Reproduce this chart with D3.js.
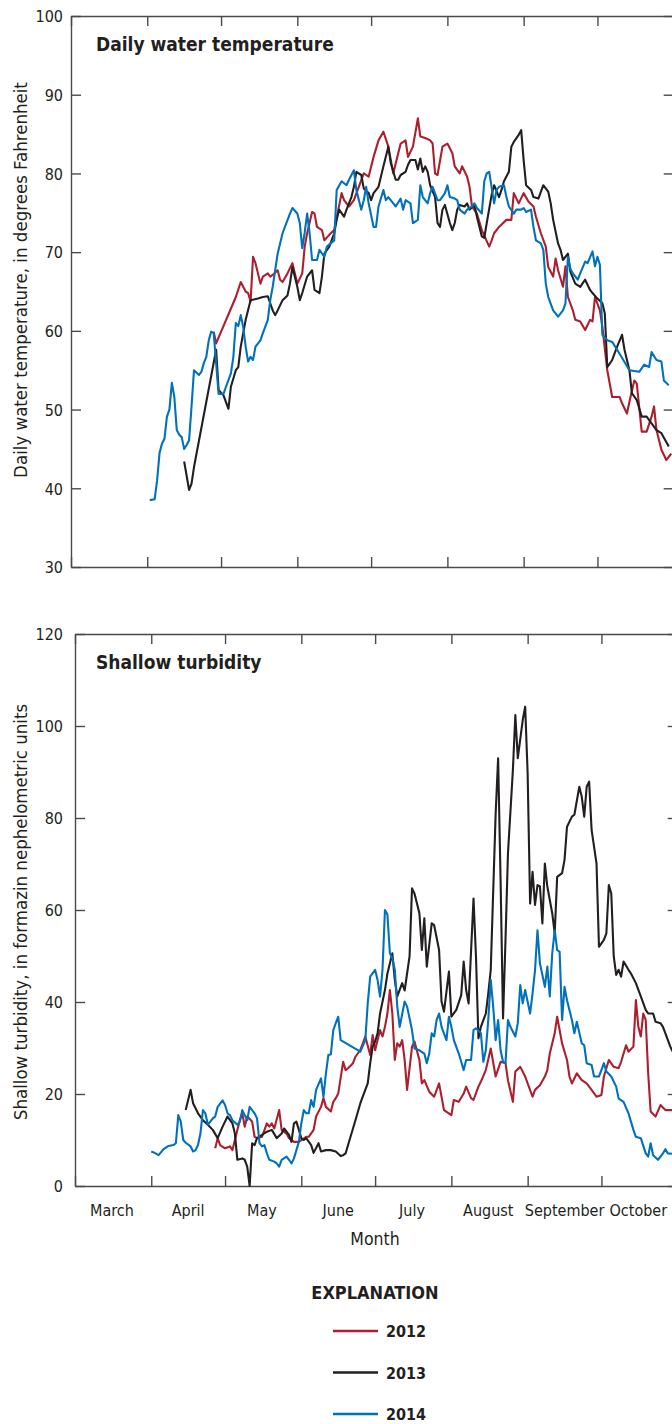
<!doctype html>
<html>
<head>
<meta charset="utf-8">
<style>
  body { margin: 0; background: #fff; }
  svg { display: block; }
  text { font-family: "Liberation Sans Narrow", "Arial Narrow", "DejaVu Sans Condensed", sans-serif; fill: #231f20; }
  .axis path, .axis line { stroke: #4a4a4a; stroke-width: 1.4; }
  .axis text { font-size: 16px; fill: #231f20; }
</style>
<script src="https://d3js.org/d3.v7.min.js"></script>
</head>
<body>
<svg width="672" height="1424"></svg>
<script>

// ---- data (month/day, value) ----
var months = ["March", "April", "May", "June", "July", "August", "September", "October"];
var years = ["2012", "2013", "2014"];
var colors = ["#ac1f2e", "#231f20", "#0071bb"];
var tempTicks = [30, 40, 50, 60, 70, 80, 90, 100];
var turbTicks = [0, 20, 40, 60, 80, 100, 120];

var temp2012 = [["4/28",59.9],["4/29",58.4],["5/7",64.3],["5/9",66.2],["5/11",65.0],["5/12",64.8],["5/13",63.7],["5/14",69.4],["5/15",68.6],["5/17",66.0],["5/18",66.9],["5/20",67.3],["5/21",66.9],["5/22",67.1],["5/24",67.7],["5/25",66.5],["5/26",66.2],["5/28",67.3],["5/30",68.6],["5/31",67.3],["6/1",66.0],["6/3",67.3],["6/4",70.7],["6/5",72.4],["6/7",75.1],["6/8",74.9],["6/9",73.2],["6/11",72.8],["6/12",71.5],["6/14",72.2],["6/16",72.8],["6/19",77.5],["6/20",76.6],["6/22",75.8],["6/24",76.6],["6/26",78.3],["6/28",80.0],["6/30",79.6],["7/2",82.1],["7/4",84.2],["7/6",85.3],["7/8",83.4],["7/10",80.0],["7/13",83.8],["7/15",84.2],["7/16",82.1],["7/18",83.4],["7/20",87.0],["7/21",84.7],["7/23",84.5],["7/25",84.2],["7/26",83.8],["7/27",80.0],["7/28",79.8],["7/30",83.4],["8/1",83.8],["8/3",82.6],["8/4",80.9],["8/6",80.0],["8/7",80.9],["8/9",79.6],["8/10",78.3],["8/11",75.8],["8/13",74.9],["8/15",72.8],["8/18",70.7],["8/19",71.5],["8/20",72.4],["8/22",73.2],["8/25",74.1],["8/27",74.1],["8/28",77.5],["8/30",76.2],["9/1",77.5],["9/3",76.4],["9/5",75.8],["9/6",74.5],["9/8",72.4],["9/10",70.7],["9/11",68.1],["9/13",66.9],["9/14",69.2],["9/15",67.7],["9/17",65.6],["9/18",68.2],["9/19",64.3],["9/21",62.6],["9/22",61.4],["9/24",61.2],["9/26",60.1],["9/28",61.4],["9/29",61.2],["9/30",64.3],["10/2",62.6],["10/3",60.5],["10/5",55.0],["10/7",51.6],["10/10",51.6],["10/11",50.8],["10/13",49.5],["10/14",51.0],["10/16",53.7],["10/17",53.3],["10/19",47.2],["10/21",47.2],["10/23",49.1],["10/24",50.4],["10/25",47.4],["10/27",44.9],["10/29",43.6],["10/31",44.4]];

var temp2013 = [["4/16",43.4],["4/18",39.8],["4/19",40.6],["4/20",42.7],["4/29",57.6],["4/30",52.5],["5/2",51.8],["5/4",50.1],["5/5",52.9],["5/7",55.0],["5/8",55.4],["5/9",58.0],["5/11",61.4],["5/13",63.9],["5/16",64.1],["5/18",64.3],["5/20",64.4],["5/22",62.6],["5/23",62.0],["5/24",62.6],["5/26",63.9],["5/28",64.5],["5/29",66.0],["5/30",68.1],["6/1",65.6],["6/2",63.9],["6/3",64.8],["6/5",66.9],["6/7",67.7],["6/8",65.2],["6/10",64.8],["6/11",66.9],["6/12",69.8],["6/14",70.7],["6/16",72.4],["6/17",74.1],["6/18",75.4],["6/20",74.5],["6/21",75.4],["6/23",77.0],["6/24",78.3],["6/25",80.2],["6/27",79.8],["6/28",78.1],["6/30",77.5],["7/1",76.6],["7/2",77.5],["7/4",78.3],["7/5",79.6],["7/6",80.9],["7/8",83.4],["7/9",81.3],["7/11",79.2],["7/12",79.2],["7/13",79.8],["7/15",80.2],["7/16",81.1],["7/17",81.7],["7/19",81.7],["7/20",80.5],["7/21",81.9],["7/22",80.2],["7/23",80.9],["7/24",80.2],["7/25",78.5],["7/27",77.0],["7/28",73.7],["7/29",73.2],["7/30",75.4],["7/31",76.0],["8/2",73.7],["8/3",72.8],["8/4",73.7],["8/5",75.4],["8/6",76.0],["8/8",75.8],["8/9",76.2],["8/10",75.4],["8/12",76.0],["8/13",74.5],["8/15",72.0],["8/16",71.8],["8/17",73.7],["8/19",77.3],["8/20",78.5],["8/22",77.0],["8/23",77.9],["8/24",79.0],["8/26",80.2],["8/27",83.4],["8/28",84.0],["8/30",84.9],["8/31",85.5],["9/1",81.7],["9/2",78.5],["9/4",77.9],["9/5",77.0],["9/7",76.8],["9/9",78.5],["9/11",77.7],["9/12",76.2],["9/13",74.1],["9/15",71.1],["9/16",70.3],["9/17",69.0],["9/19",69.8],["9/20",67.5],["9/22",66.0],["9/24",65.6],["9/26",66.5],["9/28",65.2],["9/29",64.8],["10/1",64.1],["10/3",63.5],["10/4",62.2],["10/5",55.4],["10/7",56.3],["10/9",58.0],["10/11",59.5],["10/12",57.6],["10/14",55.0],["10/15",52.1],["10/17",51.2],["10/19",49.1],["10/21",49.1],["10/25",47.4],["10/27",47.0],["10/30",45.3]];

var temp2014 = [["4/2",38.5],["4/4",38.6],["4/5",41.0],["4/6",44.5],["4/7",45.7],["4/8",46.3],["4/9",49.1],["4/10",50.0],["4/11",53.4],["4/12",51.6],["4/13",47.4],["4/14",46.8],["4/15",46.5],["4/16",45.0],["4/17",45.5],["4/18",46.1],["4/19",50.4],["4/20",55.0],["4/22",54.4],["4/23",54.8],["4/24",55.9],["4/25",56.7],["4/26",58.8],["4/27",59.9],["4/28",59.7],["4/29",55.9],["4/30",52.0],["5/2",52.0],["5/3",52.9],["5/5",54.6],["5/6",56.7],["5/7",61.0],["5/8",60.6],["5/9",62.0],["5/10",60.5],["5/11",58.0],["5/12",56.1],["5/13",56.7],["5/14",56.3],["5/15",58.0],["5/17",58.8],["5/18",59.7],["5/20",61.4],["5/21",63.9],["5/22",65.6],["5/24",69.8],["5/26",72.4],["5/29",74.9],["5/30",75.6],["6/1",74.9],["6/2",73.7],["6/3",70.5],["6/4",72.5],["6/5",74.9],["6/6",72.4],["6/7",69.0],["6/9",69.0],["6/10",70.3],["6/12",69.4],["6/13",70.7],["6/16",71.5],["6/17",77.9],["6/19",79.0],["6/21",78.5],["6/22",79.2],["6/24",80.4],["6/25",77.9],["6/27",75.4],["6/28",76.6],["6/29",78.3],["6/30",76.2],["7/2",73.2],["7/3",73.2],["7/4",75.8],["7/6",77.9],["7/7",76.6],["7/8",77.0],["7/10",76.2],["7/11",75.8],["7/13",76.8],["7/14",75.4],["7/15",76.6],["7/17",76.2],["7/18",73.7],["7/20",74.1],["7/21",78.5],["7/22",77.0],["7/24",76.2],["7/25",77.5],["7/26",78.3],["7/28",76.6],["7/29",76.6],["7/31",77.5],["8/1",78.5],["8/2",77.0],["8/4",76.8],["8/5",76.6],["8/6",75.4],["8/8",74.9],["8/9",75.4],["8/11",75.8],["8/12",76.2],["8/13",75.6],["8/15",74.9],["8/16",79.0],["8/17",80.0],["8/18",80.2],["8/20",76.2],["8/21",77.9],["8/22",78.3],["8/24",78.5],["8/25",77.0],["8/26",75.8],["8/28",74.9],["8/29",75.4],["8/31",75.4],["9/1",75.6],["9/2",75.1],["9/4",75.4],["9/5",73.2],["9/6",71.5],["9/8",71.1],["9/9",70.3],["9/10",66.0],["9/11",64.3],["9/13",62.6],["9/15",61.8],["9/17",62.6],["9/18",63.5],["9/19",69.4],["9/20",67.9],["9/21",67.3],["9/23",66.5],["9/24",67.3],["9/26",68.8],["9/27",68.6],["9/29",70.1],["9/30",68.2],["10/1",69.4],["10/2",68.4],["10/3",59.5],["10/5",58.8],["10/7",58.6],["10/10",57.1],["10/14",55.0],["10/18",54.8],["10/20",55.7],["10/22",55.4],["10/23",57.3],["10/25",56.3],["10/27",56.1],["10/28",53.7],["10/30",53.1]];

var turb2012 = [["4/27",8.2],["4/28",10.4],["4/29",8.9],["5/1",8.2],["5/3",8.6],["5/4",7.8],["5/6",12.2],["5/7",14.3],["5/8",15.8],["5/9",12.9],["5/10",15.1],["5/12",14.0],["5/13",10.7],["5/14",10.4],["5/16",10.7],["5/18",13.6],["5/19",12.9],["5/20",13.6],["5/21",12.5],["5/23",16.5],["5/24",12.2],["5/26",11.4],["5/27",10.4],["5/29",9.6],["5/31",9.6],["6/3",10.7],["6/4",10.7],["6/6",12.2],["6/7",15.1],["6/9",17.2],["6/10",19.1],["6/11",17.2],["6/13",16.2],["6/14",18.3],["6/15",19.1],["6/16",20.1],["6/18",27.0],["6/19",25.2],["6/20",25.6],["6/22",26.7],["6/23",28.1],["6/25",29.6],["6/26",31.0],["6/27",32.5],["6/29",28.5],["6/30",32.8],["7/1",29.5],["7/3",33.9],["7/4",32.5],["7/5",34.6],["7/6",37.5],["7/7",42.6],["7/8",37.5],["7/9",27.4],["7/10",31.0],["7/11",30.3],["7/12",31.7],["7/13",27.4],["7/14",20.9],["7/16",30.3],["7/17",31.4],["7/19",27.4],["7/20",22.3],["7/21",23.0],["7/23",20.5],["7/25",19.4],["7/27",22.3],["7/29",16.5],["8/1",15.4],["8/2",18.7],["8/4",18.3],["8/6",20.1],["8/7",21.6],["8/9",19.1],["8/10",18.7],["8/12",21.6],["8/13",22.7],["8/15",25.2],["8/17",29.9],["8/19",23.8],["8/21",27.0],["8/23",26.7],["8/24",23.0],["8/26",18.3],["8/27",24.9],["8/29",25.9],["8/31",23.8],["9/3",19.4],["9/4",20.9],["9/6",21.9],["9/8",23.8],["9/9",25.2],["9/10",28.8],["9/12",33.2],["9/13",36.8],["9/14",33.9],["9/15",31.0],["9/17",27.4],["9/18",23.8],["9/19",22.3],["9/21",24.5],["9/23",23.0],["9/25",22.3],["9/27",20.9],["9/29",19.4],["10/1",19.8],["10/2",23.8],["10/4",27.4],["10/6",25.9],["10/8",25.6],["10/9",27.0],["10/11",30.6],["10/12",29.2],["10/14",30.3],["10/15",40.4],["10/16",34.6],["10/17",32.5],["10/18",37.5],["10/19",36.1],["10/20",24.5],["10/21",16.2],["10/23",15.1],["10/25",17.6],["10/27",16.5],["10/30",16.5]];

var turb2013 = [["4/15",16.5],["4/17",20.9],["4/18",18.0],["4/20",15.8],["4/22",14.3],["4/24",13.3],["4/26",12.2],["4/28",10.4],["4/30",12.9],["5/2",15.1],["5/4",13.6],["5/5",11.4],["5/6",5.7],["5/8",6.0],["5/9",5.7],["5/10",4.2],["5/11",0.0],["5/12",9.3],["5/13",8.9],["5/14",10.4],["5/16",11.1],["5/18",11.8],["5/20",12.2],["5/22",10.4],["5/24",11.4],["5/25",12.5],["5/27",11.1],["5/28",9.6],["5/29",13.6],["5/30",14.0],["6/1",10.4],["6/2",10.0],["6/3",10.4],["6/5",8.9],["6/6",7.2],["6/8",9.3],["6/9",7.5],["6/11",7.8],["6/13",7.8],["6/15",7.5],["6/17",6.5],["6/18",6.7],["6/19",7.1],["6/21",10.7],["6/23",14.3],["6/25",18.0],["6/27",20.9],["6/28",22.3],["6/29",26.7],["6/30",30.3],["7/1",31.4],["7/2",33.2],["7/3",37.5],["7/5",42.6],["7/6",46.2],["7/8",50.6],["7/9",44.8],["7/10",41.2],["7/12",44.1],["7/13",42.5],["7/15",49.9],["7/16",64.7],["7/17",63.6],["7/19",59.3],["7/20",51.3],["7/21",58.2],["7/22",47.7],["7/24",57.1],["7/25",56.7],["7/27",51.3],["7/28",40.1],["7/29",37.9],["7/31",46.6],["8/1",36.8],["8/3",38.3],["8/5",41.5],["8/6",48.8],["8/7",42.6],["8/8",39.7],["8/10",62.5],["8/11",49.9],["8/12",32.1],["8/13",34.6],["8/15",37.5],["8/16",41.9],["8/17",47.0],["8/19",81.0],["8/20",93.0],["8/21",66.5],["8/22",36.4],["8/23",53.5],["8/24",72.3],["8/26",90.4],["8/27",102.4],["8/28",93.0],["8/30",101.3],["8/31",104.2],["9/1",89.7],["9/2",61.4],["9/3",68.3],["9/4",61.1],["9/5",65.4],["9/6",65.1],["9/7",57.1],["9/8",70.1],["9/9",65.1],["9/11",59.3],["9/12",54.9],["9/13",67.2],["9/15",68.0],["9/16",70.9],["9/17",78.1],["9/19",80.3],["9/20",80.7],["9/22",86.8],["9/23",84.6],["9/24",80.3],["9/25",86.8],["9/26",87.9],["9/27",77.4],["9/29",70.1],["9/30",52.0],["10/2",53.5],["10/3",54.9],["10/4",65.4],["10/5",63.6],["10/6",49.9],["10/7",45.9],["10/8",47.0],["10/9",45.5],["10/10",48.8],["10/12",47.0],["10/13",46.2],["10/15",44.1],["10/17",41.2],["10/19",38.3],["10/20",37.5],["10/22",37.5],["10/23",35.7],["10/25",35.4],["10/26",34.6],["10/27",33.2],["10/29",30.3],["10/30",29.2]];

var turb2014 = [["4/1",7.5],["4/2",7.3],["4/4",6.7],["4/6",8.0],["4/8",8.7],["4/10",8.9],["4/11",9.3],["4/12",15.4],["4/13",14.0],["4/14",10.0],["4/15",9.4],["4/17",8.6],["4/18",7.5],["4/19",7.8],["4/20",8.9],["4/21",11.4],["4/22",16.5],["4/23",15.8],["4/24",13.3],["4/26",14.7],["4/27",15.1],["4/28",17.2],["4/30",18.6],["5/1",17.6],["5/2",15.8],["5/3",15.4],["5/4",14.3],["5/6",13.3],["5/7",14.0],["5/8",16.5],["5/9",15.4],["5/10",14.3],["5/11",17.2],["5/13",15.8],["5/14",14.7],["5/15",9.3],["5/16",8.6],["5/17",8.9],["5/18",7.1],["5/19",5.7],["5/21",5.3],["5/22",4.9],["5/23",4.2],["5/24",5.7],["5/26",6.4],["5/27",5.7],["5/28",4.9],["5/29",6.0],["5/31",9.6],["6/1",13.6],["6/2",16.5],["6/3",15.8],["6/4",15.8],["6/5",18.7],["6/6",17.2],["6/7",20.9],["6/9",23.4],["6/10",19.4],["6/11",24.5],["6/12",28.5],["6/13",28.6],["6/14",33.9],["6/15",35.4],["6/16",36.8],["6/17",31.7],["6/25",29.2],["6/27",31.7],["6/28",39.7],["6/29",45.5],["7/1",47.0],["7/2",44.8],["7/3",41.2],["7/4",47.0],["7/5",60.0],["7/6",59.0],["7/7",50.6],["7/8",49.5],["7/9",47.0],["7/10",39.0],["7/11",34.6],["7/13",40.1],["7/14",39.0],["7/16",33.9],["7/17",29.9],["7/19",29.5],["7/21",28.8],["7/22",26.7],["7/23",28.8],["7/24",33.2],["7/25",32.5],["7/26",36.1],["7/27",37.5],["7/28",34.6],["7/30",31.7],["7/31",36.8],["8/1",34.6],["8/2",31.7],["8/4",28.8],["8/5",27.0],["8/6",25.2],["8/7",27.4],["8/9",27.4],["8/10",33.9],["8/11",34.3],["8/13",33.2],["8/14",27.0],["8/15",29.5],["8/16",36.1],["8/17",44.8],["8/18",39.0],["8/19",31.7],["8/20",36.1],["8/21",29.5],["8/22",27.0],["8/23",26.7],["8/24",36.1],["8/25",34.6],["8/27",32.5],["8/28",35.4],["8/29",43.7],["8/30",39.7],["8/31",42.6],["9/2",37.5],["9/3",41.9],["9/4",46.9],["9/5",55.6],["9/6",48.4],["9/8",43.3],["9/9",47.7],["9/10",41.2],["9/11",50.6],["9/12",55.6],["9/13",51.3],["9/14",50.9],["9/15",36.1],["9/16",43.3],["9/17",40.4],["9/19",36.1],["9/20",33.2],["9/21",35.7],["9/23",31.0],["9/24",30.6],["9/25",26.7],["9/27",26.3],["9/28",23.8],["9/30",23.8],["10/2",26.7],["10/3",24.9],["10/5",23.8],["10/7",21.6],["10/8",19.0],["10/10",18.3],["10/12",15.8],["10/14",12.2],["10/15",10.7],["10/17",10.4],["10/19",7.1],["10/20",6.4],["10/21",9.3],["10/22",6.7],["10/24",5.7],["10/26",7.1],["10/27",8.0],["10/28",7.1],["10/30",7.0]];

var svg = d3.select("svg");
var parse = d3.timeParse("%m/%d");
var start = new Date(1900, 2, 1), end = new Date(1900, 10, 1);

function panel(o) {
  var x = d3.scaleTime().domain([start, end]).range([o.left, o.left + 602.7]);
  var y = d3.scaleLinear().domain(o.domain).range([o.bottom, o.top]);
  var monthTicks = d3.timeMonth.range(start, d3.timeDay.offset(end, 1));

  svg.append("g").attr("class", "axis")
     .attr("transform", "translate(0," + o.top + ")")
     .call(d3.axisTop(x).tickValues(monthTicks).tickSizeInner(-10).tickSizeOuter(0).tickFormat(""));
  svg.append("g").attr("class", "axis")
     .attr("transform", "translate(0," + o.bottom + ")")
     .call(d3.axisBottom(x).tickValues(monthTicks).tickSizeInner(-10).tickSizeOuter(0).tickFormat(""));
  svg.append("g").attr("class", "axis")
     .attr("transform", "translate(" + x(end) + ",0)")
     .call(d3.axisRight(y).tickValues(o.ticks).tickSizeInner(-10).tickSizeOuter(0).tickFormat(""));
  svg.append("g").attr("class", "axis")
     .attr("transform", "translate(" + o.left + ",0)")
     .call(d3.axisLeft(y).tickValues(o.ticks).tickSizeInner(-10).tickSizeOuter(0).tickPadding(o.pad))
     .selectAll("text").attr("dy", "0.36em");

  var line = d3.line()
     .x(function(d) { return x(parse(d[0])); })
     .y(function(d) { return y(d[1]); });

  o.series.forEach(function(s, i) {
    svg.append("path")
       .datum(s)
       .attr("fill", "none")
       .attr("stroke", colors[i])
       .attr("stroke-width", 2.1)
       .attr("stroke-linejoin", "round")
       .attr("d", line);
  });

  svg.append("text")
     .attr("x", 96).attr("y", o.top + 35)
     .attr("font-size", "19px").attr("font-weight", "bold")
     .text(o.title);

  svg.append("text")
     .attr("transform", "translate(27," + o.labelY + ") rotate(-90)")
     .attr("text-anchor", "middle")
     .attr("font-size", "18.5px")
     .text(o.ylabel);

  return x;
}

panel({
  left: 71, top: 16, bottom: 567, domain: [30, 100], ticks: tempTicks, pad: 8,
  title: "Daily water temperature",
  ylabel: "Daily water temperature, in degrees Fahrenheit", labelY: 280,
  series: [temp2012, temp2013, temp2014]
});

var xb = panel({
  left: 75, top: 634, bottom: 1186, domain: [0, 120], ticks: turbTicks, pad: 12,
  title: "Shallow turbidity",
  ylabel: "Shallow turbidity, in formazin nephelometric units", labelY: 912,
  series: [turb2012, turb2013, turb2014]
});

// month names centred in each month
svg.append("g").selectAll("text")
   .data(months).enter()
   .append("text")
   .attr("x", function(d, i) { return xb(new Date(1900, 2 + i, 16)); })
   .attr("y", 1216)
   .attr("text-anchor", "middle")
   .attr("font-size", "16px")
   .text(function(d) { return d; });

svg.append("text")
   .attr("x", 375).attr("y", 1245)
   .attr("text-anchor", "middle")
   .attr("font-size", "17.5px")
   .text("Month");

// explanation
svg.append("text")
   .attr("x", 375).attr("y", 1299)
   .attr("text-anchor", "middle")
   .attr("font-size", "18px").attr("font-weight", "bold")
   .text("EXPLANATION");

var leg = svg.append("g").selectAll("g")
   .data(years).enter()
   .append("g")
   .attr("transform", function(d, i) { return "translate(333," + (1331 + i * 41.5) + ")"; });

leg.append("line")
   .attr("x1", 0).attr("x2", 45)
   .attr("stroke", function(d, i) { return colors[i]; })
   .attr("stroke-width", 2.5);

leg.append("text")
   .attr("x", 53).attr("y", 6)
   .attr("font-size", "16px").attr("font-weight", "bold")
   .text(function(d) { return d; });

</script>
</body>
</html>
